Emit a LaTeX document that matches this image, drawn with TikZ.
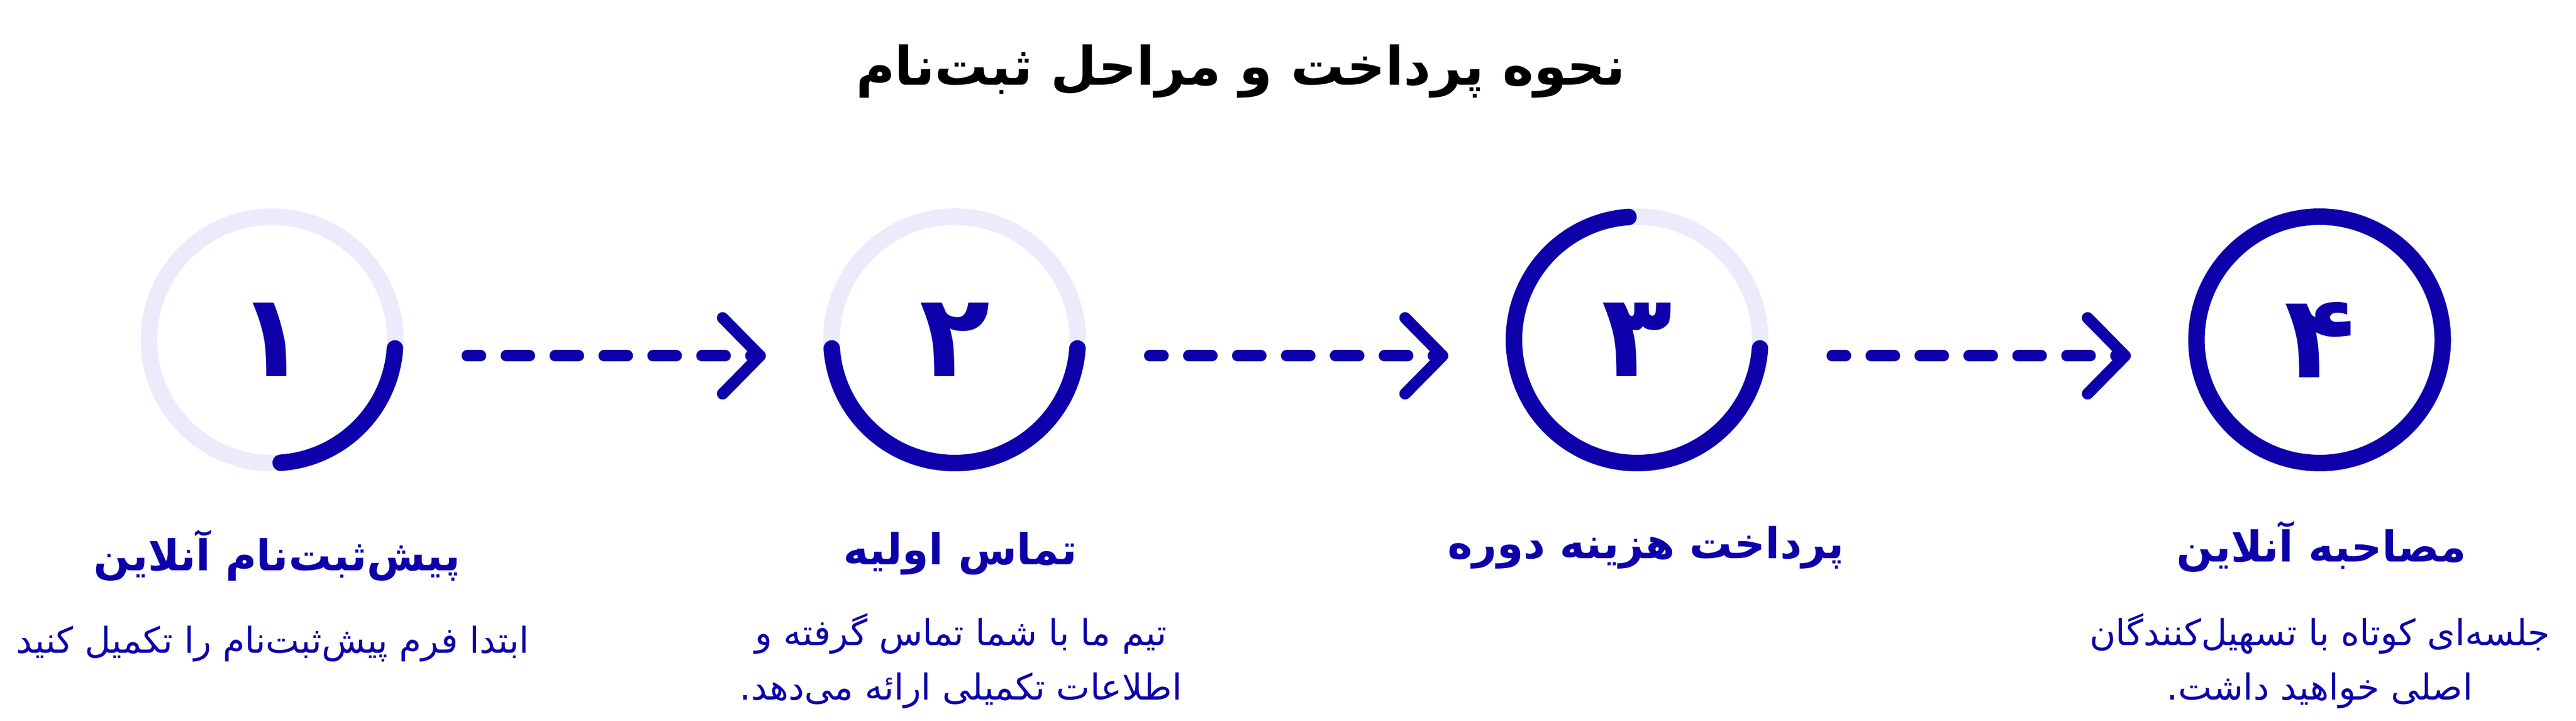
\documentclass[tikz,border=0pt]{standalone}
\usepackage{fontspec}
\newfontfamily\arabicfont[Script=Arabic]{DejaVu Sans}
\TeXXeTstate=1
\definecolor{navy}{RGB}{13,0,170}
\definecolor{lav}{RGB}{235,235,252}
\newcommand{\fa}[1]{\beginR #1\endR}
\begin{document}
\begin{tikzpicture}[line join=round,line cap=round,font=\arabicfont,
	ring/.style={draw=lav,line width=3mm},
	prog/.style={draw=navy,line width=3mm},
	dig/.style={circle,minimum size=44.8mm,inner sep=0pt,outer sep=0pt,text=navy,font=\arabicfont\bfseries\fontsize{60}{60}\selectfont},
	ttl/.style={anchor=base,text=navy,font=\arabicfont\bfseries\fontsize{22}{26}\selectfont},
	txt/.style={anchor=base,align=center,text=navy,font=\arabicfont\fontsize{18.5}{28.2}\selectfont},
	dsh/.style={navy,line width=2.1mm,dash pattern=on 4.2mm off 4.7mm,dash phase=1.8mm}]
	\useasboundingbox (0,0) rectangle (46.86,13.11);
	\node[anchor=base,font=\arabicfont\bfseries\fontsize{27.5}{33}\selectfont] (title) at (22.57,11.56) {\fa{نحوه پرداخت و مراحل ثبت^^^^200cنام}};
	
	\node[dig] (c1) at (4.95,6.93) {۱};
	\node[dig] (c2) at (17.365,6.93) {۲};
	\node[dig] (c3) at (29.78,6.93) {۳};
	\node[dig] (c4) at (42.195,6.93) {۴};
	
	\draw[ring] (c1.center) circle[radius=2.24];
	\draw[ring] (c2.center) circle[radius=2.24];
	\draw[ring] (c3.center) circle[radius=2.24];
	\draw[prog] ([shift={(-4:2.24)}]c1.center) arc[start angle=-4,end angle=-86,radius=2.24];
	\draw[prog] ([shift={(-4:2.24)}]c2.center) arc[start angle=-4,end angle=-176,radius=2.24];
	\draw[prog] ([shift={(94:2.24)}]c3.center) arc[start angle=94,end angle=356,radius=2.24];
	\draw[prog] (c4.center) circle[radius=2.24];
	
	\draw[dsh] ([shift={(1.31,-0.29)}]c1.east) -- ([shift={(-1.30,-0.29)}]c2.west) coordinate (t1);
	\draw[dsh] ([shift={(1.31,-0.29)}]c2.east) -- ([shift={(-1.30,-0.29)}]c3.west) coordinate (t2);
	\draw[dsh] ([shift={(1.31,-0.29)}]c3.east) -- ([shift={(-1.30,-0.29)}]c4.west) coordinate (t3);
	\tikzset{chv/.pic={
			\draw[navy,line width=2.1mm] (-0.68,0.69) -- (0,0) -- (-0.68,-0.69);
	}}
	\path (t1) pic{chv} (t2) pic{chv} (t3) pic{chv};
	
	\node[ttl] (l1) at (5.04,2.73) {\fa{پیش^^^^200cثبت^^^^200cنام آنلاین}};
	\node[ttl] (l2) at (17.47,2.84) {\fa{تماس اولیه}};
	\node[ttl] (l3) at (29.94,2.95) {\fa{پرداخت هزینه دوره}};
	\node[ttl] (l4) at (42.23,2.89) {\fa{مصاحبه آنلاین}};
	
	\node[txt] (d1) at (4.96,1.23) {\fa{ابتدا فرم پیش^^^^200cثبت^^^^200cنام را تکمیل کنید}};
	\node[txt] (d2) at (17.48,0.38) {\fa{تیم ما با شما تماس گرفته و}\\\fa{اطلاعات تکمیلی ارائه می^^^^200cدهد.}};
	\node[txt] (d4) at (42.2,0.38) {\fa{جلسه^^^^200cای کوتاه با تسهیل^^^^200cکنندگان}\\\fa{اصلی خواهید داشت.}};
\end{tikzpicture}
\end{document}
